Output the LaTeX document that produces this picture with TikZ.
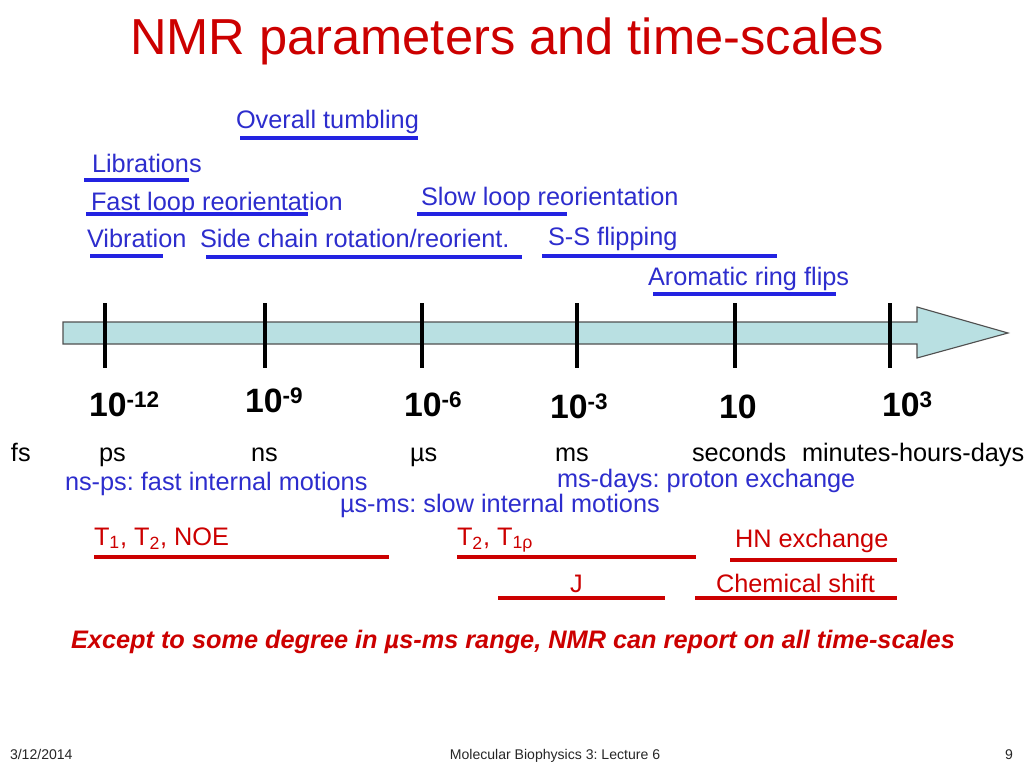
\documentclass[tikz,border=0pt]{standalone}
\usepackage{fontspec}
\setmainfont{Liberation Sans}
\usetikzlibrary{shapes,arrows,positioning}
\frenchspacing

\definecolor{nmrred}{RGB}{204,0,0}
\definecolor{txtblue}{RGB}{45,45,205}
\definecolor{barblue}{RGB}{35,35,225}
\definecolor{axisfill}{RGB}{185,224,226}
\definecolor{axisline}{RGB}{80,80,80}

% exponent on the time axis
\newcommand{\expo}[1]{\raisebox{6pt}{\fontsize{16}{16}\selectfont #1}}

\begin{document}
\begin{tikzpicture}[x=0.025cm, y=-0.025cm,
					every node/.style={inner sep=0pt, outer sep=0pt},
					motion/.style={anchor=base west, text=txtblue, font=\fontsize{18}{21}\selectfont},
					unit/.style={anchor=base west, text=black, font=\fontsize{18}{21}\selectfont},
					power/.style={anchor=base west, text=black, font=\fontsize{24}{28}\selectfont\bfseries},
					param/.style={anchor=base west, text=nmrred, font=\fontsize{18}{21}\selectfont},
					footer/.style={anchor=base west, text=black!85, font=\fontsize{10}{12}\selectfont},
					bluebar/.style={draw=barblue, line width=3pt},
					redbar/.style={draw=nmrred, line width=3pt},
					tick/.style={draw=black, line width=3pt}]
	\useasboundingbox (0,0) rectangle (1024,768);

	% title
	\node[anchor=base, text=nmrred, font=\fontsize{36}{40}\selectfont] (title) at (507,55) {NMR parameters and time-scales};

	% motions above the axis
	\node[motion] (tumbling) at (236,129) {Overall tumbling};
	\node[motion] (libr) at (92,172) {Librations};
	\node[motion] (fastloop) at (91,210) {Fast loop reorientation};
	\node[motion] (slowloop) at (421,205) {Slow loop reorientation};
	\node[motion] (vib) at (87,247) {Vibration};
	\node[motion] (sidechain) at (200,247) {Side chain rotation/reorient.};
	\node[motion] (ssflip) at (548,245) {S-S flipping};
	\node[motion] (aroflip) at (648,285) {Aromatic ring flips};

	\draw[bluebar] (240,138) -- (418,138);
	\draw[bluebar] (84,180) -- (189,180);
	\draw[bluebar] (86,214) -- (308,214);
	\draw[bluebar] (417,214) -- (567,214);
	\draw[bluebar] (90,256) -- (163,256);
	\draw[bluebar] (206,257) -- (522,257);
	\draw[bluebar] (542,256) -- (777,256);
	\draw[bluebar] (653,294) -- (836,294);

	% time axis
	\filldraw[fill=axisfill, draw=axisline, line width=0.8pt]
		(63,322) -- (917,322) -- (917,307) -- (1008,333) -- (917,358) -- (917,344) -- (63,344) -- cycle;
	\foreach \x in {105,265,422,577,735,890}
		\draw[tick] (\x,303) -- (\x,368);

	\node[power] (p12) at (89,416) {10\expo{-12}};
	\node[power] (p9) at (245,412) {10\expo{-9}};
	\node[power] (p6) at (404,416) {10\expo{-6}};
	\node[power] (p3) at (550,418) {10\expo{-3}};
	\node[power] (p1) at (719,418) {10};
	\node[power] (pp3) at (882,416) {10\expo{3}};

	\node[unit] (fs) at (11,461) {fs};
	\node[unit] (ps) at (99,461) {ps};
	\node[unit] (ns) at (251,461) {ns};
	\node[unit] (us) at (410,461) {µs};
	\node[unit] (ms) at (555,461) {ms};
	\node[unit] (sec) at (692,461) {seconds};
	\node[unit] (mhd) at (802,461) {minutes-hours-days};

	\node[motion] (fastint) at (65,490) {ns-ps: fast internal motions};
	\node[motion] (protex) at (557,487) {ms-days: proton exchange};
	\node[motion] (slowint) at (340,512) {µs-ms: slow internal motions};

	% NMR parameters
	\node[param] (relax) at (94,545) {T\textsubscript{1}, T\textsubscript{2}, NOE};
	\node[param] (relaxrho) at (457,545) {T\textsubscript{2}, T\textsubscript{1ρ}};
	\node[param] (hnex) at (735,547) {HN exchange};
	\node[param] (jcoup) at (570,592) {J};
	\node[param] (cshift) at (716,592) {Chemical shift};

	\draw[redbar] (94,557) -- (389,557);
	\draw[redbar] (457,557) -- (696,557);
	\draw[redbar] (730,560) -- (897,560);
	\draw[redbar] (498,598) -- (665,598);
	\draw[redbar] (695,598) -- (897,598);

	\node[anchor=base, text=nmrred, font=\fontsize{18}{21}\selectfont\bfseries\itshape] (remark) at (513,648)
		{Except to some degree in µs-ms range, NMR can report on all time-scales};

	% footer
	\node[footer] (date) at (10,759) {3/12/2014};
	\node[footer, anchor=base] (course) at (555,759) {Molecular Biophysics 3: Lecture 6};
	\node[footer] (page) at (1005,759) {9};
\end{tikzpicture}
\end{document}
